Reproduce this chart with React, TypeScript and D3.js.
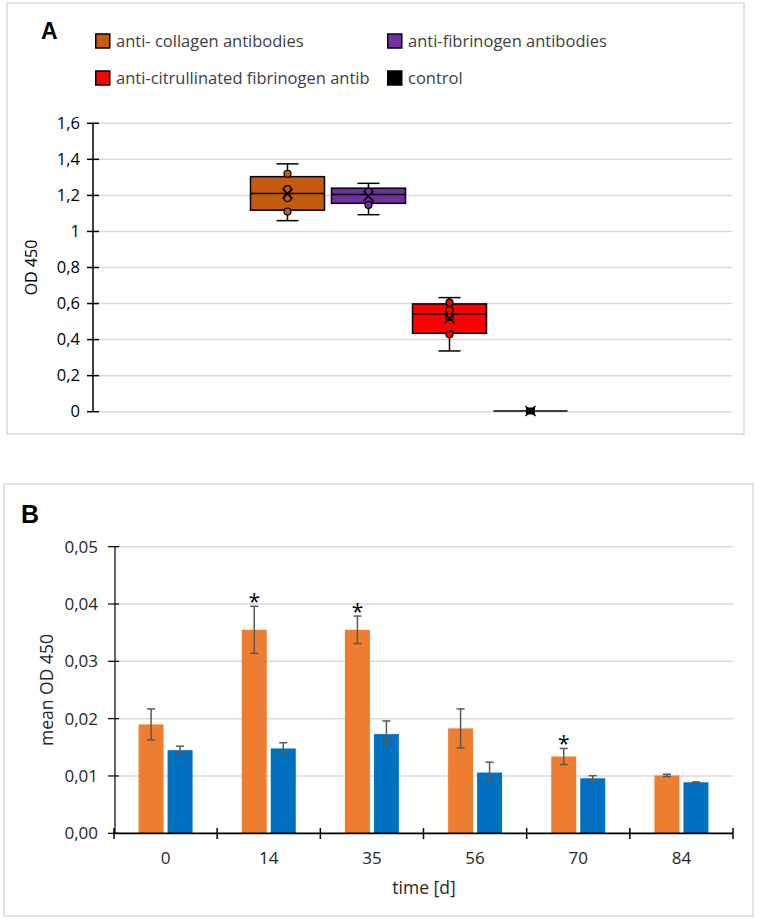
import React from "react";
import * as d3 from "d3";

// ---------- Panel A data (box plots) ----------
const boxSeries = [
  "anti- collagen antibodies",
  "anti-fibrinogen antibodies",
  "anti-citrullinated fibrinogen antib",
  "control",
];
const boxColors = ["#C55A11", "#7030A0", "#FF0000", "#000000"];
const boxMin = [1.06, 1.093, 0.337, 0.004];
const boxQ1 = [1.118, 1.156, 0.435, 0.004];
const boxMedian = [1.21, 1.205, 0.542, 0.004];
const boxQ3 = [1.304, 1.24, 0.598, 0.004];
const boxMax = [1.375, 1.267, 0.633, 0.004];
const boxMean = [1.21, 1.196, 0.518, 0.004];
const boxPoints = [
  [1.11, 1.185, 1.235, 1.32],
  [1.147, 1.221],
  [0.43, 0.526, 0.563, 0.605],
  [0.004],
];
const yTicksA = [0, 0.2, 0.4, 0.6, 0.8, 1, 1.2, 1.4, 1.6];
// legend order (row-major: 2 columns)
const legendOrder = [0, 1, 2, 3];

// ---------- Panel B data (bars) ----------
const days = ["0", "14", "35", "56", "70", "84"];
const barSeries = ["group1", "group2"];
const barColors = ["#ED7D31", "#0070C0"];
const orangeValues = [0.019, 0.0355, 0.0355, 0.0183, 0.0134, 0.0101];
const orangeErr = [0.0027, 0.0041, 0.0024, 0.0034, 0.0014, 0.0002];
const blueValues = [0.0145, 0.0148, 0.0173, 0.0106, 0.0096, 0.0089];
const blueErr = [0.0007, 0.001, 0.0023, 0.0018, 0.00045, 0.00005];
const orangeSignificant = [false, true, true, false, true, false];
const yTicksB = [0, 0.01, 0.02, 0.03, 0.04, 0.05];

const FONT = "'Open Sans', sans-serif";
const fmtA = (v: number) => String(+v.toFixed(1)).replace(".", ",");
const fmtB = (v: number) => v.toFixed(2).replace(".", ",");

function PanelA() {
  const y = d3.scaleLinear().domain([0, 1.6]).range([411.7, 123.3]);
  const xLeft = 93;
  const xRight = 732;
  const xb = d3
    .scaleBand<string>()
    .domain(boxSeries)
    .range([247, 571])
    .paddingInner(7 / 81)
    .paddingOuter(3.5 / 81);
  const bw = xb.bandwidth();
  const capHalf = 11;
  return (
    <g>
      <rect x={7} y={3} width={737} height={431} fill="#fff" stroke="#d9d9d9" strokeWidth={1.5} />
      <text x={41} y={38.5} fontFamily="'Liberation Sans', Arial, sans-serif" fontWeight="bold" fontSize={23} fill="#000">
        A
      </text>
      {legendOrder.map((si, i) => {
        const col = i % 2;
        const row = Math.floor(i / 2);
        const lx = col === 0 ? 95 : 387;
        const ly = row === 0 ? 41 : 78;
        return (
          <g key={si}>
            <rect x={lx + 0.75} y={ly - 7} width={14} height={14} fill={boxColors[si]} stroke="#000" strokeWidth={1.5} />
            <text x={lx + 21} y={ly} dy="0.35em" fontFamily={FONT} fontSize={16.5} fill="#404040">
              {boxSeries[si]}
            </text>
          </g>
        );
      })}
      {yTicksA.map((t) => (
        <g key={t}>
          <line x1={xLeft} x2={xRight} y1={y(t)} y2={y(t)} stroke="#d9d9d9" strokeWidth={1.5} />
          <line x1={87} x2={99} y1={y(t)} y2={y(t)} stroke="#000" strokeWidth={1.5} />
          <text x={80} y={y(t)} dy="0.35em" textAnchor="end" fontFamily={FONT} fontSize={16.5} fill="#000">
            {fmtA(t)}
          </text>
        </g>
      ))}
      <line x1={xLeft} x2={xLeft} y1={y(1.6)} y2={y(0)} stroke="#000" strokeWidth={1.5} />
      <text
        transform={`translate(31,267.5) rotate(-90)`}
        textAnchor="middle"
        dy="0.35em"
        fontFamily={FONT}
        fontSize={16}
        fill="#000"
      >
        OD 450
      </text>
      {boxSeries.map((s, i) => {
        const x0 = xb(s)!;
        const cx = x0 + bw / 2;
        const c = boxColors[i];
        const m = y(boxMean[i]);
        const flat = boxQ1[i] === boxQ3[i];
        return (
          <g key={s}>
            <line x1={cx} x2={cx} y1={y(boxQ3[i])} y2={y(boxMax[i])} stroke="#000" strokeWidth={1.5} />
            <line x1={cx} x2={cx} y1={y(boxQ1[i])} y2={y(boxMin[i])} stroke="#000" strokeWidth={1.5} />
            {boxMax[i] !== boxQ3[i] && (
              <line x1={cx - capHalf} x2={cx + capHalf} y1={y(boxMax[i])} y2={y(boxMax[i])} stroke="#000" strokeWidth={1.5} />
            )}
            {boxMin[i] !== boxQ1[i] && (
              <line x1={cx - capHalf} x2={cx + capHalf} y1={y(boxMin[i])} y2={y(boxMin[i])} stroke="#000" strokeWidth={1.5} />
            )}
            <rect
              x={x0}
              y={y(boxQ3[i])}
              width={bw}
              height={Math.max(0, y(boxQ1[i]) - y(boxQ3[i]))}
              fill={c}
              stroke="#000"
              strokeWidth={flat ? 2.5 : 1.5}
            />
            <line x1={x0} x2={x0 + bw} y1={y(boxMedian[i])} y2={y(boxMedian[i])} stroke="#000" strokeWidth={1.5} />
            {boxPoints[i].map((p, j) =>
              flat ? (
                <rect key={j} x={cx - 4.5} y={y(p) - 3.5} width={9} height={7} fill={c} />
              ) : (
                <circle key={j} cx={cx} cy={y(p)} r={3.5} fill={c} stroke="#000" strokeWidth={1.2} />
              )
            )}
            <line x1={cx - 5} x2={cx + 5} y1={m - 5} y2={m + 5} stroke="#000" strokeWidth={1.5} />
            <line x1={cx - 5} x2={cx + 5} y1={m + 5} y2={m - 5} stroke="#000" strokeWidth={1.5} />
          </g>
        );
      })}
    </g>
  );
}

function PanelB() {
  const y = d3.scaleLinear().domain([0, 0.05]).range([833.3, 546.7]);
  const x0 = d3
    .scaleBand<string>()
    .domain(days)
    .range([114, 733])
    .paddingInner(0.4766)
    .paddingOuter(0.2383);
  const x1 = d3
    .scaleBand<string>()
    .domain(barSeries)
    .range([0, x0.bandwidth()])
    .paddingInner(4 / 29);
  const step = x0.step();
  const seriesVals = [orangeValues, blueValues];
  const seriesErr = [orangeErr, blueErr];
  const boundaries = d3.range(days.length + 1).map((i) => 114 + i * step);
  return (
    <g>
      <rect x={4} y={484} width={749} height={432} fill="#fff" stroke="#d9d9d9" strokeWidth={1.5} />
      <text x={21} y={523} fontFamily="'Liberation Sans', Arial, sans-serif" fontWeight="bold" fontSize={25} fill="#000">
        B
      </text>
      {yTicksB.map((t) => (
        <g key={t}>
          {t > 0 && <line x1={115} x2={733} y1={y(t)} y2={y(t)} stroke="#d9d9d9" strokeWidth={1.5} />}
          <line x1={108} x2={119} y1={y(t)} y2={y(t)} stroke="#000" strokeWidth={1.2} />
          <text x={98} y={y(t)} dy="0.35em" textAnchor="end" fontFamily={FONT} fontSize={17} fill="#262626">
            {fmtB(t)}
          </text>
        </g>
      ))}
      {days.map((d, di) => (
        <g key={d}>
          {barSeries.map((s, si) => {
            const v = seriesVals[si][di];
            const e = seriesErr[si][di];
            const bx = x0(d)! + x1(s)!;
            const cx = bx + x1.bandwidth() / 2;
            return (
              <g key={s}>
                <rect x={bx} y={y(v)} width={x1.bandwidth()} height={y(0) - y(v)} fill={barColors[si]} />
                <line x1={cx} x2={cx} y1={y(v + e)} y2={y(v - e)} stroke="#595959" strokeWidth={1.5} />
                <line x1={cx - 4} x2={cx + 4} y1={y(v + e)} y2={y(v + e)} stroke="#595959" strokeWidth={1.5} />
                <line x1={cx - 4} x2={cx + 4} y1={y(v - e)} y2={y(v - e)} stroke="#595959" strokeWidth={1.5} />
                {si === 0 && orangeSignificant[di] && (
                  <text x={cx} y={y(v + e) + 3} textAnchor="middle" fontFamily={FONT} fontSize={21} fill="#000">
                    *
                  </text>
                )}
              </g>
            );
          })}
          <text
            x={x0(d)! + x0.bandwidth() / 2}
            y={858}
            dy="0.35em"
            textAnchor="middle"
            fontFamily={FONT}
            fontSize={17}
            fill="#262626"
          >
            {d}
          </text>
        </g>
      ))}
      <line x1={115} x2={115} y1={y(0.05)} y2={y(0)} stroke="#000" strokeWidth={1.2} />
      <line x1={114} x2={733} y1={y(0)} y2={y(0)} stroke="#000" strokeWidth={1.8} />
      {boundaries.map((b, i) => (
        <line key={i} x1={b} x2={b} y1={828} y2={839} stroke="#000" strokeWidth={1.5} />
      ))}
      <text
        transform={`translate(47,690) rotate(-90)`}
        textAnchor="middle"
        dy="0.35em"
        fontFamily={FONT}
        fontSize={17.5}
        fill="#262626"
      >
        mean OD 450
      </text>
      <text x={424} y={888} dy="0.35em" textAnchor="middle" fontFamily={FONT} fontSize={17.5} fill="#262626">
        time [d]
      </text>
    </g>
  );
}

export default function App() {
  return (
    <svg
      width={758}
      height={921}
      style={{ position: "absolute", left: 0, top: 0, background: "#fff" }}
    >
      <rect width={758} height={921} fill="#fff" />
      <PanelA />
      <PanelB />
    </svg>
  );
}
